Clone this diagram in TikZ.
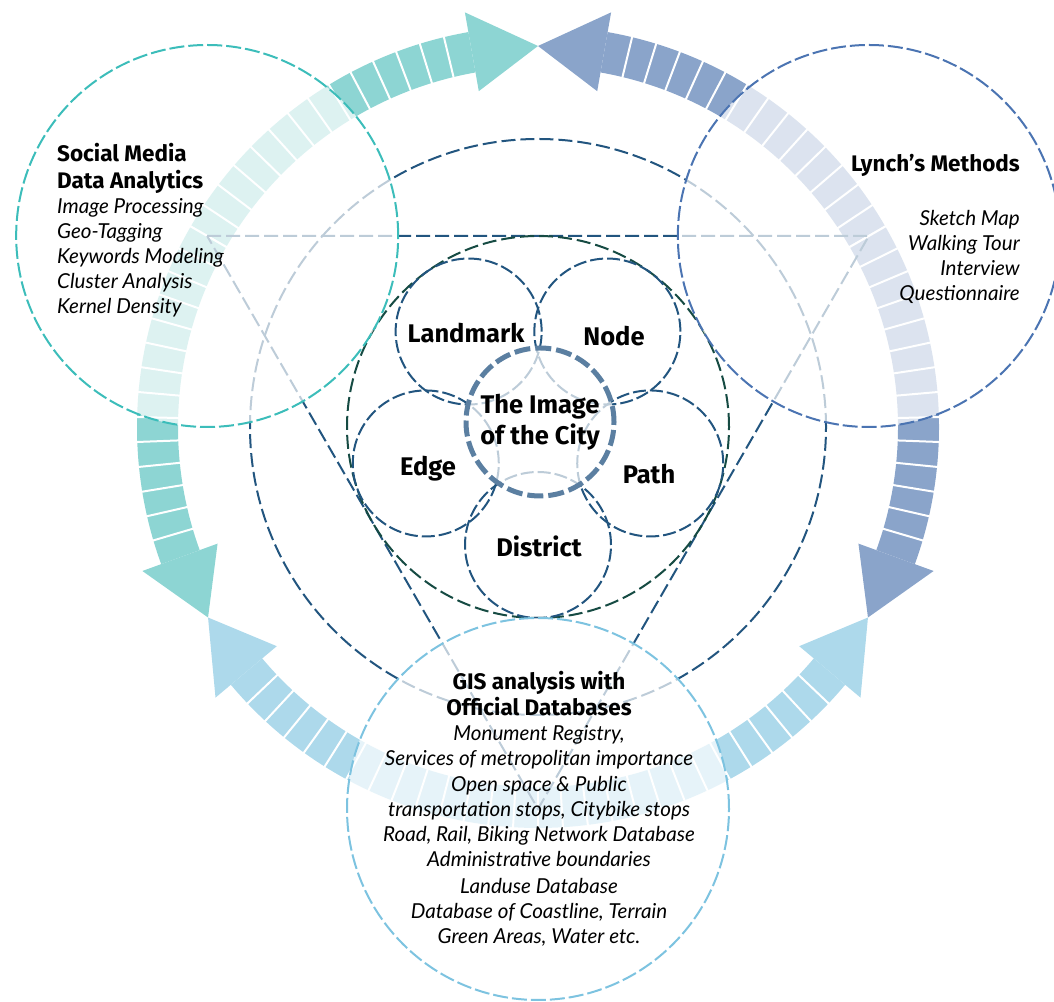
\documentclass[tikz,border=0pt]{standalone}
\usepackage{fontspec}
\setmainfont{Lato}
\newfontfamily\hf{Fira Sans}
\usetikzlibrary{calc}
\definecolor{tealA}{HTML}{8DD5D3}
\definecolor{tealL}{HTML}{3CBDBA}
\definecolor{lynA}{HTML}{8AA4CA}
\definecolor{lynL}{HTML}{4B74B2}
\definecolor{gisA}{HTML}{ADD9EB}
\definecolor{gisL}{HTML}{7DC3E0}
\definecolor{dkblue}{HTML}{22557F}
\definecolor{dkgreen}{HTML}{164B43}
\definecolor{ringc}{HTML}{5B7FA1}
\newcommand{\ringarrow}[4]{%
  \fill[#4] ($(C)+(#1:360)$) arc[start angle=#1, end angle=#2, radius=360]
     -- ($(C)+(#2:401)$) arc[start angle=#2, end angle=#1, radius=401] -- cycle;
  \fill[#4] ($(C)+(#2:341)$) -- ($(C)+(#3:381)$) -- ($(C)+(#2:421)$) -- cycle;
  \foreach \k in {0,...,13}{%
    \pgfmathsetmacro\aa{#1+\k*(#2-#1)/14}
    \draw[white, line width=2pt] ($(C)+(\aa:357)$) -- ($(C)+(\aa:404)$);}%
}
\begin{document}
\begin{tikzpicture}[x=1pt,y=1pt,
  hd/.style={font=\hf\bfseries\fontsize{22.5}{28}\selectfont, inner sep=0pt},
  it/.style={font=\itshape\fontsize{20.6}{25}\selectfont, inner sep=0pt},
  lbl/.style={font=\hf\bfseries\fontsize{25.5}{30}\selectfont, inner sep=0pt},
  dkline/.style={draw=dkblue, line width=2pt, dash pattern=on 14pt off 5pt},
  petal/.style={draw=dkblue, line width=2pt, dash pattern=on 13pt off 4pt},
  outer/.style={line width=2pt, dash pattern=on 15pt off 4pt}]
\useasboundingbox (0,0) rectangle (1054,1001);
\coordinate (C) at (538,574);
\coordinate (Cr) at (540,579);
\coordinate (S) at ($(C)+(150:382)$);
\coordinate (L) at ($(C)+(30:382)$);
\coordinate (G) at ($(C)+(270:382)$);
% arrows
\ringarrow{150}{100}{90}{tealA}
\ringarrow{150}{200}{210}{tealA}
\ringarrow{30}{80}{90}{lynA}
\ringarrow{30}{-20}{-30}{lynA}
\ringarrow{270}{220}{210}{gisA}
\ringarrow{270}{320}{330}{gisA}
% big circle, triangle, incircle
\draw[dkline] (C) circle[radius=288];
\draw[dkline] (S) -- (L) -- (G) -- cycle;
\draw[draw=dkgreen, line width=2pt, dash pattern=on 14pt off 5pt] (C) circle[radius=191];
% petals
\foreach \a in {126,54,198,-18,-90}{
  \draw[petal] ($(C)+(\a:118)$) circle[radius=73];}
% outer circles
\fill[white, opacity=0.7] (S) circle[radius=191];
\fill[white, opacity=0.7] (L) circle[radius=191];
\fill[white, opacity=0.7] (G) circle[radius=191];
\draw[outer, draw=tealL] (S) circle[radius=191];
\draw[outer, draw=lynL] (L) circle[radius=191];
\draw[outer, draw=gisL] (G) circle[radius=191];
% centre ring
\fill[white, opacity=0.7] (Cr) circle[radius=74];
\draw[draw=ringc, line width=5pt, dash pattern=on 16pt off 5pt] (Cr) circle[radius=74];
% labels
\node[lbl] (lm) at (466,668) {Landmark};
\node[lbl] (nd) at (614,665) {Node};
\node[lbl] (ed) at (428,532) {Edge};
\node[lbl] (pa) at (649,527) {Path};
\node[lbl] (di) at (539,455) {District};
\node[lbl] (im1) at (540,594) {The Image};
\node[lbl] (im2) at (540,564) {of the City};
% social media
\node[hd, anchor=base west] (s1) at (57,839) {Social Media};
\node[hd, anchor=base west] (s2) at (57,812) {Data Analytics};
\node[it, anchor=base west] (s3) at (57,787) {Image Processing};
\node[it, anchor=base west] (s4) at (57,762) {Geo-Tagging};
\node[it, anchor=base west] (s5) at (57,737) {Keywords Modeling};
\node[it, anchor=base west] (s6) at (57,712) {Cluster Analysis};
\node[it, anchor=base west] (s7) at (57,687) {Kernel Density};
% lynch
\node[hd, anchor=base east] (l1) at (1020,829) {Lynch’s Methods};
\node[it, anchor=base east] (l2) at (1020,775) {Sketch Map};
\node[it, anchor=base east] (l3) at (1020,750) {Walking Tour};
\node[it, anchor=base east] (l4) at (1020,725) {Interview};
\node[it, anchor=base east] (l5) at (1020,700) {Questionnaire};
% gis
\node[hd, anchor=base] (g1) at (539,311) {GIS analysis with};
\node[hd, anchor=base] (g2) at (539,285) {Official Databases};
\node[it, anchor=base] (g3) at (539,260) {Monument Registry,};
\node[it, anchor=base] (g4) at (539,235) {Services of metropolitan importance};
\node[it, anchor=base] (g5) at (539,209) {Open space \& Public};
\node[it, anchor=base] (g6) at (539,184) {transportation stops, Citybike stops};
\node[it, anchor=base] (g7) at (539,159) {Road, Rail, Biking Network Database};
\node[it, anchor=base] (g8) at (539,134) {Administrative boundaries};
\node[it, anchor=base] (g9) at (539,108) {Landuse Database};
\node[it, anchor=base] (g10) at (539,83) {Database of Coastline, Terrain};
\node[it, anchor=base] (g11) at (539,58) {Green Areas, Water etc.};
\end{tikzpicture}
\end{document}
